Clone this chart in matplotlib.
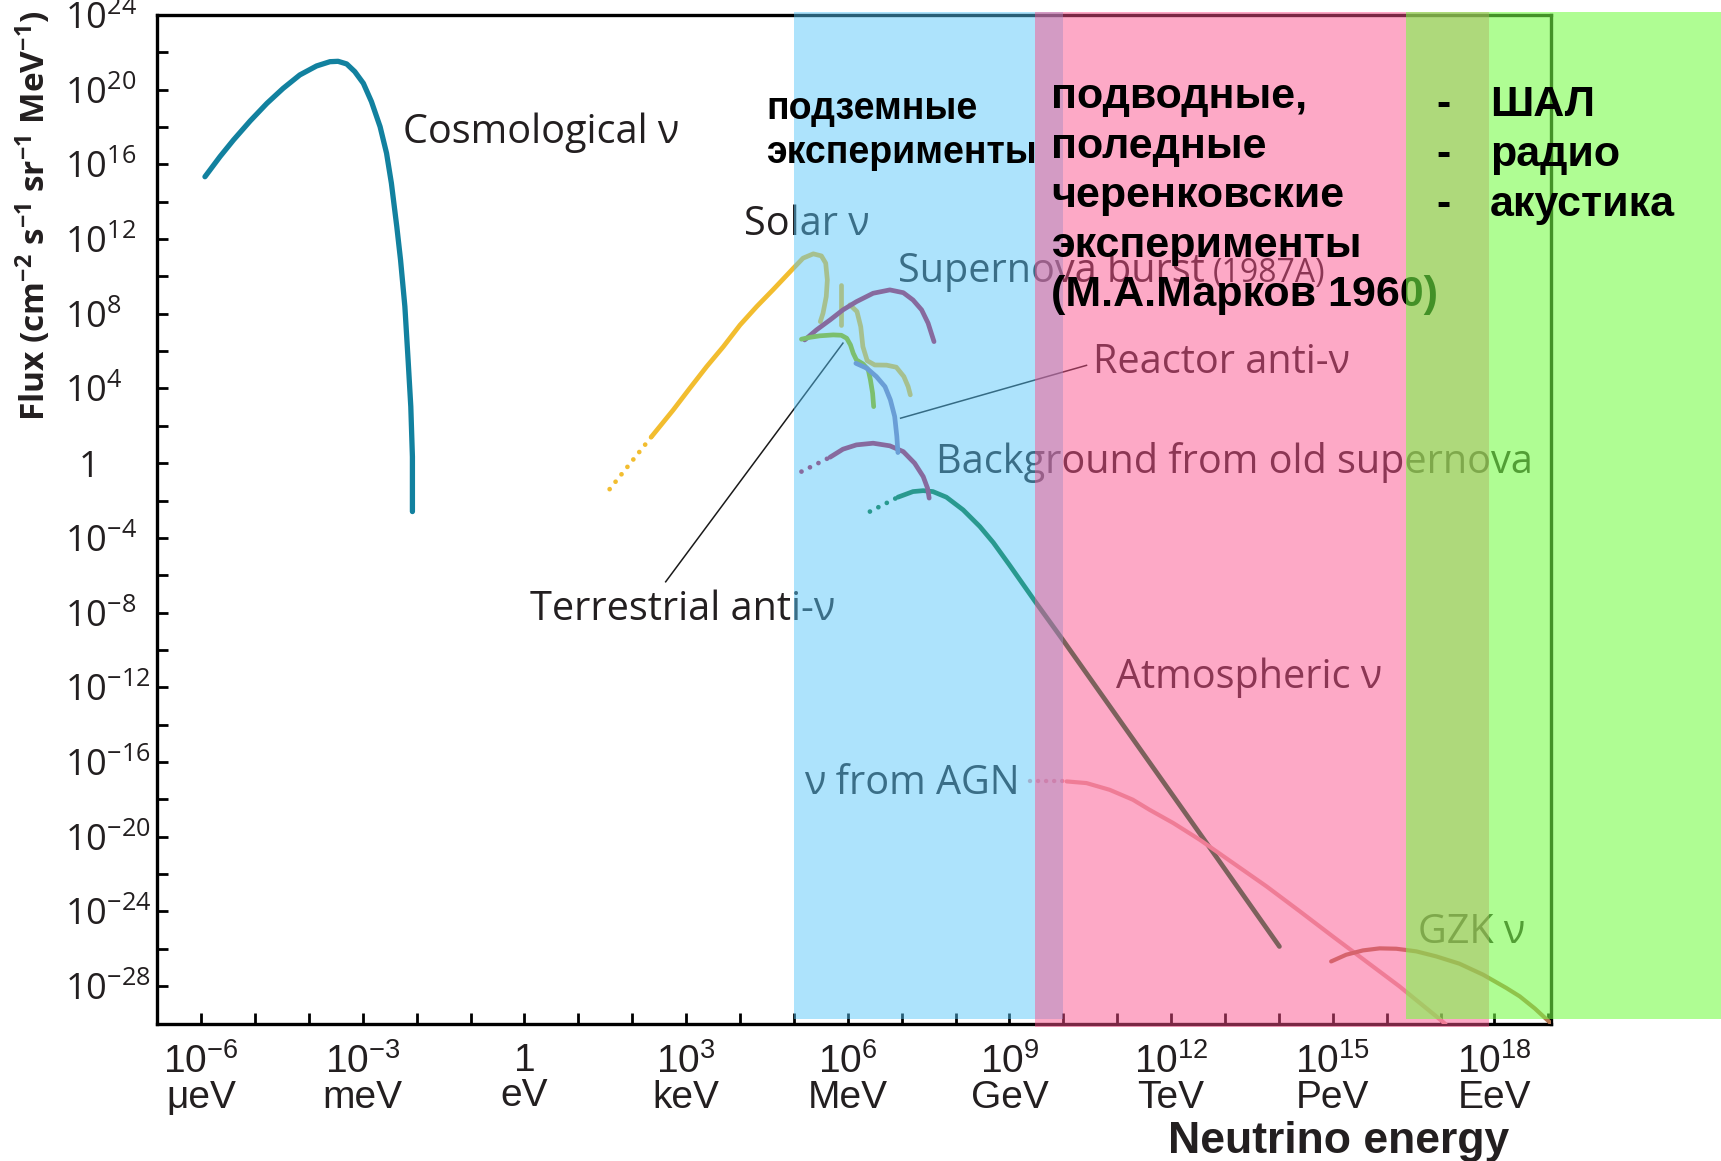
import matplotlib
matplotlib.use('Agg')
import matplotlib.pyplot as plt
from matplotlib import font_manager

# every series is log10: energy in eV, flux in cm^-2 s^-1 sr^-1 MeV^-1
cosmo_e = [-5.93, -5.65, -5.40, -5.09, -4.78, -4.48, -4.17, -3.86, -3.61, -3.46, -3.30, -3.15,
           -2.99, -2.84, -2.68, -2.56, -2.47, -2.37, -2.30, -2.22, -2.16, -2.11, -2.08, -2.08]
cosmo_f = [15.34, 16.42, 17.31, 18.33, 19.27, 20.07, 20.79, 21.27, 21.50, 21.52, 21.38, 20.97,
           20.34, 19.36, 18.02, 16.60, 14.99, 12.67, 10.88, 8.39, 5.53, 3.03, 0.35, -2.59]

solar_dot_e = [1.58, 2.36]
solar_dot_f = [-1.39, 1.43]
solar_e = [2.36, 2.76, 3.07, 3.38, 3.69, 4.00, 4.31, 4.61, 4.99, 5.17, 5.36, 5.51, 5.59,
           5.62, 5.60, 5.54, 5.49]
solar_f = [1.43, 2.85, 4.02, 5.17, 6.24, 7.40, 8.39, 9.28, 10.44, 10.98, 11.21, 11.10, 10.71,
           9.81, 8.92, 8.03, 7.58]
be7_e = [5.88, 5.88]
be7_f = [9.55, 7.40]
b8_e = [6.04, 6.17, 6.24, 6.28, 6.36, 6.50, 6.72, 6.90, 7.04, 7.12, 7.16]
b8_f = [8.48, 8.12, 7.31, 6.24, 5.49, 5.26, 5.25, 5.14, 4.64, 4.10, 3.66]

sn_e = [5.20, 5.42, 5.67, 5.91, 6.16, 6.47, 6.78, 7.03, 7.21, 7.37, 7.49, 7.60]
sn_f = [6.60, 7.14, 7.67, 8.21, 8.65, 9.10, 9.28, 9.13, 8.74, 8.21, 7.50, 6.51]

terr_e = [5.14, 5.30, 5.48, 5.73, 5.88, 5.98, 6.05, 6.10, 6.16, 6.28, 6.38, 6.42, 6.46, 6.48]
terr_f = [6.64, 6.74, 6.82, 6.87, 6.85, 6.69, 6.33, 5.89, 5.53, 5.32, 5.00, 4.46, 3.75, 3.03]

reac_e = [6.15, 6.35, 6.53, 6.69, 6.79, 6.87, 6.91, 6.93]
reac_f = [5.35, 5.09, 4.64, 4.10, 3.39, 2.50, 1.43, 0.57]

oldsn_dot_e = [5.14, 5.67]
oldsn_dot_f = [-0.45, 0.32]
oldsn_e = [5.67, 5.91, 6.16, 6.47, 6.78, 7.03, 7.24, 7.40, 7.48, 7.51]
oldsn_f = [0.32, 0.75, 0.98, 1.07, 0.93, 0.62, 0.00, -0.72, -1.34, -1.87]

atm_dot_e = [6.41, 6.93]
atm_dot_f = [-2.59, -1.82]
atm_e = [6.93, 7.21, 7.40, 7.58, 7.83, 8.14, 8.45, 8.70, 9.00, 9.47, 9.99, 12.65, 14.01]
atm_f = [-1.82, -1.52, -1.47, -1.52, -1.82, -2.50, -3.39, -4.25, -5.45, -7.38, -9.46, -20.31, -25.88]

agn_dot_e = [9.38, 10.06]
agn_dot_f = [-17.04, -17.04]
agn_e = [10.06, 10.43, 10.86, 11.29, 11.60, 12.04, 12.53, 13.15, 13.77, 14.39, 15.00, 15.62,
         16.24, 16.92, 17.09]
agn_f = [-17.04, -17.13, -17.49, -18.02, -18.56, -19.27, -20.16, -21.41, -22.66, -24.00,
         -25.34, -26.68, -28.02, -29.62, -30.03]

gzk_e = [14.97, 15.25, 15.56, 15.87, 16.18, 16.55, 16.92, 17.35, 17.79, 18.22, 18.47, 18.75, 19.05]
gzk_f = [-26.68, -26.32, -26.09, -25.98, -26.00, -26.14, -26.41, -26.80, -27.39, -28.10, -28.55,
         -29.20, -30.00]

# leader lines from labels to curves
terr_lead_e = [2.62, 5.91]
terr_lead_f = [-6.35, 6.43]
reac_lead_e = [6.98, 10.43]
reac_lead_f = [2.41, 5.24]

# detection technique bands, log10 eV
band_underground = (5.0, 10.0)
band_water_ice = (9.47, 17.9)
band_air_radio = (16.35, 22.5)

xtick_pos = [-6, -3, 0, 3, 6, 9, 12, 15, 18]
xtick_txt = ['10$^{-6}$\nμeV', '10$^{-3}$\nmeV', '1\neV', '10$^{3}$\nkeV', '10$^{6}$\nMeV',
             '10$^{9}$\nGeV', '10$^{12}$\nTeV', '10$^{15}$\nPeV', '10$^{18}$\nEeV']
ytick_pos = list(range(24, -29, -4))


def p10(v):
    return [10.0 ** x for x in v]


installed = {f.name for f in font_manager.fontManager.ttflist}
NARROW = 'Liberation Sans Narrow' if 'Liberation Sans Narrow' in installed else 'Liberation Sans'

plt.rcParams['font.family'] = 'Open Sans'
plt.rcParams['mathtext.default'] = 'regular'

BLUE = (84 / 255, 197 / 255, 249 / 255)
PINK = (251 / 255, 80 / 255, 139 / 255)
GREEN = (117 / 255, 252 / 255, 69 / 255)
INK = '#231f20'

W, H = 1721, 1161
fig = plt.figure(figsize=(W / 100, H / 100), dpi=100)
ax = fig.add_axes([157 / W, 1 - 1024 / H, 1394 / W, 1009 / H])
ax.set_xscale('log')
ax.set_yscale('log')
ax.set_xlim(10.0 ** -6.82, 10.0 ** 19.05)
ax.set_ylim(10.0 ** -30.03, 10.0 ** 24)

for s in ax.spines.values():
    s.set_linewidth(2.4)
    s.set_color('black')

ax.xaxis.set_minor_locator(matplotlib.ticker.NullLocator())
ax.yaxis.set_minor_locator(matplotlib.ticker.NullLocator())
xt = list(range(-6, 20))
ax.set_xticks(p10(xt), [xtick_txt[xtick_pos.index(k)] if k in xtick_pos else '' for k in xt])
ax.set_yticks(p10(range(24, -30, -2)))
ax.yaxis.set_major_formatter(matplotlib.ticker.NullFormatter())
ax.tick_params(direction='in', length=8, width=2.0, color='black')
ax.tick_params(axis='x', pad=14, labelsize=28, labelcolor=INK)
for lbl in ax.get_xticklabels():
    lbl.set_family(NARROW)
    lbl.set_linespacing(0.95)

# y labels: powers of ten share a left edge, "1" sits under their centre
for k in ytick_pos:
    if k == 0:
        txt, ha, dx = '1', 'center', -49
    else:
        txt, ha, dx = '10$^{%d}$' % k, 'left', -66
    ax.annotate(txt, xy=(0, 10.0 ** k), xycoords=('axes fraction', 'data'),
                xytext=(dx, -3.5), textcoords='offset points', ha=ha, va='center',
                fontsize=26, color=INK, annotation_clip=False)

# spectra
lw = 3.4
ax.plot(p10(cosmo_e), p10(cosmo_f), color='#12819f', lw=3.8, solid_capstyle='round', zorder=3)
ax.plot(p10(solar_dot_e), p10(solar_dot_f), color='#f2bd2f', lw=lw, ls=(0, (0.01, 2.0)),
        dash_capstyle='round', zorder=3)
ax.plot(p10(solar_e), p10(solar_f), color='#f2bd2f', lw=lw, solid_capstyle='round', zorder=3)
ax.plot(p10(be7_e), p10(be7_f), color='#f2bd2f', lw=lw, solid_capstyle='round', zorder=3)
ax.plot(p10(b8_e), p10(b8_f), color='#f2bd2f', lw=lw, solid_capstyle='round', zorder=3)

ax.plot(p10(atm_dot_e), p10(atm_dot_f), color='#03722f', lw=lw, ls=(0, (0.01, 2.0)),
        dash_capstyle='round', zorder=3)
ax.plot(p10(atm_e), p10(atm_f), color='#03722f', lw=lw, solid_capstyle='round', zorder=3)
ax.plot(p10(agn_dot_e), p10(agn_dot_f), color='#e8a0a8', lw=3.2, ls=(0, (0.01, 1.8)),
        dash_capstyle='round', zorder=3)
ax.plot(p10(agn_e), p10(agn_f), color='#e5a8a1', lw=3.0, solid_capstyle='round', zorder=3)
ax.plot(p10(gzk_e), p10(gzk_f), color='#b47752', lw=3.0, solid_capstyle='round', zorder=3)

ax.plot(p10(terr_lead_e), p10(terr_lead_f), color='#1a1a1a', lw=1.1, zorder=3)
ax.plot(p10(reac_lead_e), p10(reac_lead_f), color='#1a1a1a', lw=1.1, zorder=3)

# curves lying inside the underground band sit on top of it
ax.plot(p10(sn_e), p10(sn_f), color='#876a9e', lw=lw, solid_capstyle='round', zorder=4.2)
ax.plot(p10(oldsn_dot_e), p10(oldsn_dot_f), color='#876a9e', lw=lw, ls=(0, (0.01, 2.0)),
        dash_capstyle='round', zorder=4.2)
ax.plot(p10(oldsn_e), p10(oldsn_f), color='#876a9e', lw=lw, solid_capstyle='round', zorder=4.2)
ax.plot(p10(terr_e), p10(terr_f), color='#7cbf6e', lw=lw, solid_capstyle='round', zorder=4.2)
ax.plot(p10(reac_e), p10(reac_f), color='#6a9ed6', lw=lw, solid_capstyle='round', zorder=4.2)

# curve names
lab = dict(fontsize=28.5, color=INK, zorder=3.5, va='baseline')
ax.text(10 ** -2.26, 10 ** 17.16, 'Cosmological ν', **lab)
ax.text(10 ** 4.07, 10 ** 12.22, 'Solar ν', **lab)
ax.text(10 ** 6.93, 10 ** 9.71, 'Supernova burst', **lab)
ax.text(10 ** 12.77, 10 ** 9.71, '(1987A)', fontsize=23, color=INK, zorder=3.5, va='baseline')
ax.text(10 ** 10.55, 10 ** 4.84, 'Reactor anti-ν', **lab)
ax.text(10 ** 7.63, 10 ** -0.52, 'Background from old supernova', **lab)
ax.text(10 ** 0.10, 10 ** -8.39, 'Terrestrial anti-ν', **lab)
ax.text(10 ** 10.97, 10 ** -12.03, 'Atmospheric ν', **lab)
ax.text(10 ** 5.19, 10 ** -17.74, 'ν from AGN', **lab)
ax.text(10 ** 16.59, 10 ** -25.68, 'GZK ν', **lab)

# detection bands
ax.axvspan(*p10(band_underground), ymin=0.0045, ymax=1.003, color=BLUE, alpha=0.48, lw=0,
           zorder=4, clip_on=False)
ax.axvspan(*p10(band_water_ice), ymin=-0.003, ymax=1.003, color=PINK, alpha=0.49, lw=0,
           zorder=4.5, clip_on=False)

ax.text(10 ** 4.48, 10 ** 17.78, 'подземные\nэксперименты', fontsize=27, fontweight='bold',
        family='Liberation Sans', color='black', va='center', ha='left', linespacing=1.3,
        zorder=6)
ax.text(10 ** 9.78, 10 ** 14.30,
        'подводные,\nполедные\nчеренковские\nэксперименты\n(М.А.Марков 1960)',
        fontsize=31, fontweight='bold', family=NARROW, color='black', va='center', ha='left',
        linespacing=1.31, zorder=6)

ax.axvspan(*p10(band_air_radio), ymin=0.0045, ymax=1.003, color=GREEN, alpha=0.58, lw=0,
           zorder=7, clip_on=False)

ax.text(10 ** 16.93, 10 ** 16.50, '-\n-\n-', fontsize=31, fontweight='bold', family=NARROW,
        color='black', va='center', ha='left', linespacing=1.33, zorder=8)
ax.text(10 ** 17.92, 10 ** 16.50, 'ШАЛ\nрадио\nакустика', fontsize=31, fontweight='bold',
        family=NARROW, color='black', va='center', ha='left', linespacing=1.33, zorder=8)

fig.text(33 / W, 1 - 216 / H, 'Flux (cm$^{-2}$ s$^{-1}$ sr$^{-1}$ MeV$^{-1}$)', rotation=90,
         fontsize=24, fontweight='bold', color=INK, ha='center', va='center')
fig.text(1339 / W, 1 - 1142 / H, 'Neutrino energy', fontsize=32, fontweight='bold',
         family=NARROW, color=INK, ha='center', va='center')

fig.savefig('out.png', dpi=100)
